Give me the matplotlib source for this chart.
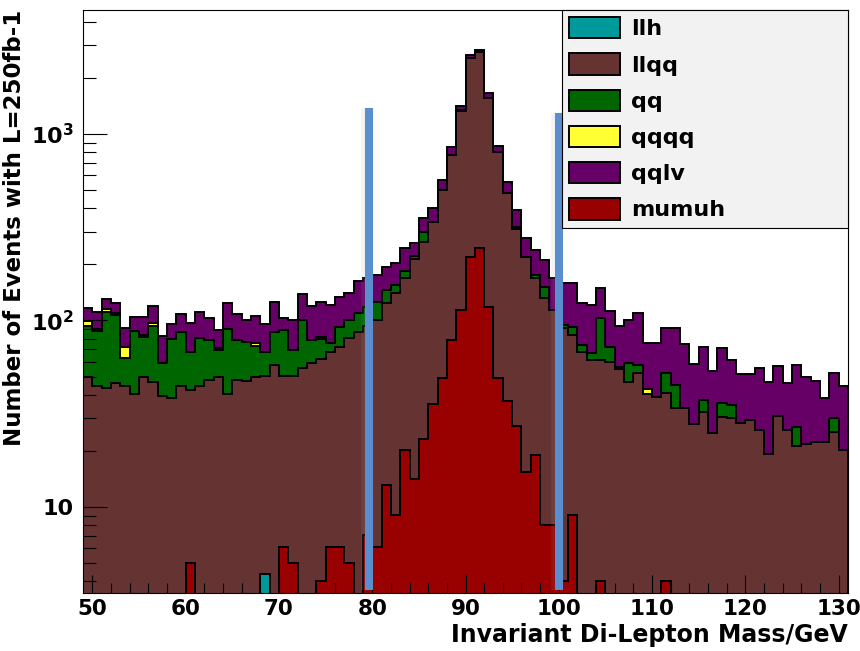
# Di-lepton invariant mass, stacked backgrounds + mumuh signal (ROOT style)
import numpy as np
import matplotlib
matplotlib.use('Agg')
import matplotlib.pyplot as plt
from matplotlib.ticker import FixedLocator, FuncFormatter, MultipleLocator, NullFormatter
from matplotlib.patches import Patch

plt.rcParams['font.family'] = ['DejaVu Sans']
plt.rcParams['font.weight'] = 'bold'
plt.rcParams['mathtext.fontset'] = 'custom'
plt.rcParams['mathtext.rm'] = 'DejaVu Sans:bold'
plt.rcParams['mathtext.it'] = 'DejaVu Sans:bold'
plt.rcParams['mathtext.bf'] = 'DejaVu Sans:bold'

# 1 GeV bins, 49..131 GeV
edges = np.arange(49, 132)

# background counts per bin (bins 49..130)
llqq = [50, 44.6, 43.3, 46.4, 44.6, 40.3, 50, 47, 39.4, 38.3,
        44.4, 42.5, 44.6, 48, 49.8, 40.3, 48, 47.6, 49.5, 46.0,
        58, 50.5, 50.4, 55.8, 59, 62, 67.5, 72, 81, 87,
        93, 100, 124, 141, 169, 214, 265, 339, 501, 775,
        1330, 2545, 2760, 1553, 805, 481, 310, 220, 168, 131.5,
        114, 90.8, 83.6, 68.1, 61.4, 61.4, 60.1, 54.7, 47, 52.1,
        40.6, 39, 40.7, 33.8, 34, 27.9, 32.4, 24.8, 30.5, 30,
        28.1, 29.3, 25.9, 19.2, 30.8, 25.9, 21.2, 21.8, 22.4, 22.3,
        25.4, 20.2]
qq = [44, 42.9, 67.7, 60.6, 18.4, 47.7, 31.3, 46.7, 20.1, 41.7,
      42.6, 25.5, 36.4, 31, 19.7, 49.7, 30.6, 29.4, 23.7, 17.6,
      29, 38.5, 19.1, 45.2, 19.6, 17.3, 8.5, 20, 19, 23,
      25, 26, 21, 14, 16, 8, 34, 0, 0, 0,
      10, 0, 0, 7, 0, 0, 8, 0, 7, 20.5,
      0, 3.8, 9.1, 5.8, 5.3, 41.3, 12.3, 0, 11.9, 5.6,
      0, 0, 11.8, 11.3, 0, 0, 5.3, 0, 5.7, 5.4,
      0, 0, 0, 0, 0, 0, 5.8, 0, 0, 0,
      4.5, 0]
qqlv = [16.5, 21, 16, 14, 18.6, 17, 21.4, 23.5, 23.1, 16,
        21, 29, 30, 24, 17.5, 34, 29.4, 24, 30.6, 28,
        38, 14, 31.5, 37, 41.4, 43.7, 45, 42, 40, 52,
        52, 49, 49, 48, 59, 37, 54, 61, 66, 80,
        73, 110, 58, 92, 58, 74, 74, 56, 64, 59,
        54, 63.4, 65.3, 50.1, 54.3, 46.3, 39.6, 36.9, 41.7, 52.3,
        32.7, 36.4, 38.3, 45.7, 41, 30.6, 34.7, 28.7, 35, 26,
        23.4, 22.2, 29.7, 27.6, 26, 20.6, 30.8, 28.2, 25.1, 16.1,
        22.6, 24.6]

# sparse histograms: {bin low edge: count}
qqqq_bins = {49: 5.5, 50: 2.5, 51: 4, 52: 3.2, 53: 9.4, 55: 2.3, 56: 2.8,
             63: 2, 67: 2.2, 74: 2, 106: 1.8, 109: 2.1}
llh_bins = {68: 4.4}
mumuh_bins = {60: 5.0, 70: 6.1, 71: 5.0, 74: 4.0, 75: 6.1, 76: 6.1, 77: 5.0,
              79: 7.1, 80: 6.1, 81: 13.2, 82: 9.1, 83: 20.2, 84: 14.1,
              85: 23.3, 86: 35.8, 87: 49, 88: 78.6, 89: 114, 90: 220,
              91: 244, 92: 118.6, 93: 49.3, 94: 37.2, 95: 27.2, 96: 15.5,
              97: 19, 98: 8.0, 99: 8.0, 100: 4.0, 101: 9.1, 104: 4.0, 111: 4.0}


def from_bins(d):
    h = np.zeros(len(edges) - 1)
    for k, v in d.items():
        h[k - edges[0]] = v
    return h


llh = from_bins(llh_bins)
qqqq = from_bins(qqqq_bins)
mumuh = from_bins(mumuh_bins)

stack = [('llh', llh, '#009999'),
         ('llqq', np.array(llqq), '#663333'),
         ('qq', np.array(qq), '#006600'),
         ('qqqq', qqqq, '#ffff33'),
         ('qqlv', np.array(qqlv), '#660066')]
signal_color = '#990000'

# cut lines (GeV) and their drawn heights
cut_x = [79.65, 100.0]
cut_top = [1377, 1296]

fig = plt.figure(figsize=(8.6, 6.51), dpi=100)
ax = fig.add_axes([83 / 860, 58 / 651, 765 / 860, 583 / 651])
ax.set_yscale('log', nonpositive='clip')

floor = 1e-3
tops = np.cumsum([s[1] for s in stack], axis=0)
# like THStack: draw the total first, lower layers on top of it
for (name, vals, col), top in reversed(list(zip(stack, tops))):
    ax.stairs(np.maximum(top, floor), edges, baseline=floor, fill=True,
              facecolor=col, edgecolor='black', linewidth=1.4, zorder=1)
ax.stairs(np.maximum(mumuh, floor), edges, baseline=floor, fill=True,
          facecolor=signal_color, edgecolor='black', linewidth=1.4, zorder=1.2)

# blue cut markers with a faint shadow
ax.vlines([x - 0.55 for x in cut_x], 3.6, cut_top, colors='#a0a0a0',
          linewidth=4, alpha=0.12, zorder=2.9)
ax.vlines(cut_x, 3.6, cut_top, colors='#5a8ecf', linewidth=5.8, zorder=3)

ax.set_xlim(49, 131)
ax.set_ylim(3.46, 4620)

ax.xaxis.set_major_locator(MultipleLocator(10))
ax.xaxis.set_minor_locator(MultipleLocator(2))
ax.yaxis.set_major_locator(FixedLocator([10, 100, 1000]))
minor_y = [m * d for d in (1, 10, 100, 1000) for m in range(2, 10)]
ax.yaxis.set_minor_locator(FixedLocator([v for v in minor_y if 3.4 < v < 4700]))
ylab = {10: '10', 100: r'$10^{2}$', 1000: r'$10^{3}$'}
ax.yaxis.set_major_formatter(FuncFormatter(lambda v, p: ylab.get(int(round(v)), '')))
ax.yaxis.set_minor_formatter(NullFormatter())

ax.tick_params(axis='x', which='major', direction='in', length=13, width=0.8,
               labelsize=15.5, pad=4)
ax.tick_params(axis='x', which='minor', direction='in', length=7, width=0.8)
ax.tick_params(axis='y', which='major', direction='in', length=17.5, width=0.8,
               labelsize=16, pad=7)
ax.tick_params(axis='y', which='minor', direction='in', length=9, width=0.8)
for s in ax.spines.values():
    s.set_linewidth(0.8)

ax.set_xlabel('Invariant Di-Lepton Mass/GeV', loc='right', fontsize=17,
              fontweight='bold', labelpad=3)
ax.set_ylabel('Number of Events with L=250fb-1', loc='top', fontsize=16.5,
              fontweight='bold', labelpad=3)

handles = [Patch(facecolor=c, edgecolor='black', linewidth=1.4) for _, _, c in stack]
handles.append(Patch(facecolor=signal_color, edgecolor='black', linewidth=1.4))
labels = [s[0] for s in stack] + ['mumuh']
leg = ax.legend(handles, labels, loc='upper right',
                bbox_to_anchor=(0.626, 0.0, 0.374, 1.0), mode='expand',
                borderaxespad=0, fontsize=16, handlelength=2.3,
                handleheight=1.1, handletextpad=0.5, labelspacing=0.63,
                borderpad=0.32, fancybox=False, framealpha=1)
leg.get_frame().set_facecolor('#f2f2f2')
leg.get_frame().set_edgecolor('black')
leg.get_frame().set_linewidth(0.8)
leg.set_zorder(5)

fig.savefig('out.png', dpi=100)
